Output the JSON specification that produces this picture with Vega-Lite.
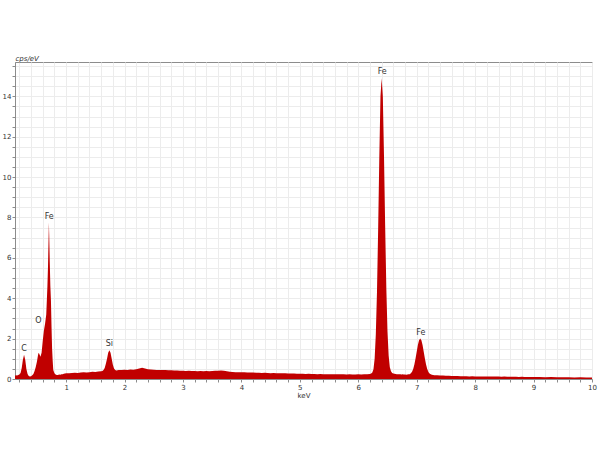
{
  "$schema": "https://vega.github.io/schema/vega-lite/v6.json",
  "width": 577,
  "height": 317,
  "autosize": "none",
  "padding": {"left": 15, "top": 62, "right": 8, "bottom": 71},
  "background": "white",
  "config": {"view": {"stroke": "#8c8c8c", "strokeWidth": 1}, "font": "DejaVu Sans"},
  "datasets": {
    "spectrum": [
      {"keV": 0.12, "cps": 0.15}, {"keV": 0.14, "cps": 0.18}, {"keV": 0.16, "cps": 0.17}, {"keV": 0.18, "cps": 0.2},
      {"keV": 0.2, "cps": 0.22}, {"keV": 0.22, "cps": 0.3}, {"keV": 0.24, "cps": 0.55}, {"keV": 0.26, "cps": 0.95},
      {"keV": 0.28, "cps": 1.2}, {"keV": 0.3, "cps": 0.95}, {"keV": 0.32, "cps": 0.5}, {"keV": 0.34, "cps": 0.25},
      {"keV": 0.36, "cps": 0.15}, {"keV": 0.38, "cps": 0.12}, {"keV": 0.4, "cps": 0.14}, {"keV": 0.42, "cps": 0.18},
      {"keV": 0.44, "cps": 0.25}, {"keV": 0.46, "cps": 0.4}, {"keV": 0.48, "cps": 0.6}, {"keV": 0.5, "cps": 0.85},
      {"keV": 0.52, "cps": 1.2}, {"keV": 0.53, "cps": 1.3}, {"keV": 0.54, "cps": 1.25}, {"keV": 0.56, "cps": 1.1},
      {"keV": 0.58, "cps": 1.3}, {"keV": 0.6, "cps": 1.9}, {"keV": 0.62, "cps": 2.4}, {"keV": 0.64, "cps": 2.75},
      {"keV": 0.66, "cps": 3.2}, {"keV": 0.67, "cps": 3.9}, {"keV": 0.68, "cps": 4.6}, {"keV": 0.69, "cps": 5.6},
      {"keV": 0.7, "cps": 7.0}, {"keV": 0.705, "cps": 7.75}, {"keV": 0.71, "cps": 7.2}, {"keV": 0.72, "cps": 5.8},
      {"keV": 0.73, "cps": 4.6}, {"keV": 0.74, "cps": 3.9}, {"keV": 0.75, "cps": 2.6}, {"keV": 0.76, "cps": 1.5},
      {"keV": 0.77, "cps": 0.9}, {"keV": 0.78, "cps": 0.45}, {"keV": 0.8, "cps": 0.28}, {"keV": 0.82, "cps": 0.22},
      {"keV": 0.84, "cps": 0.2}, {"keV": 0.86, "cps": 0.2}, {"keV": 0.88, "cps": 0.22}, {"keV": 0.9, "cps": 0.21},
      {"keV": 0.92, "cps": 0.24}, {"keV": 0.94, "cps": 0.23}, {"keV": 0.96, "cps": 0.26}, {"keV": 0.98, "cps": 0.27},
      {"keV": 1.0, "cps": 0.28}, {"keV": 1.05, "cps": 0.29}, {"keV": 1.1, "cps": 0.3}, {"keV": 1.15, "cps": 0.31},
      {"keV": 1.2, "cps": 0.3}, {"keV": 1.25, "cps": 0.32}, {"keV": 1.3, "cps": 0.33}, {"keV": 1.35, "cps": 0.32},
      {"keV": 1.4, "cps": 0.34}, {"keV": 1.45, "cps": 0.36}, {"keV": 1.5, "cps": 0.35}, {"keV": 1.55, "cps": 0.37},
      {"keV": 1.6, "cps": 0.38}, {"keV": 1.62, "cps": 0.4}, {"keV": 1.64, "cps": 0.45}, {"keV": 1.66, "cps": 0.55},
      {"keV": 1.68, "cps": 0.75}, {"keV": 1.7, "cps": 1.0}, {"keV": 1.72, "cps": 1.3}, {"keV": 1.74, "cps": 1.42},
      {"keV": 1.76, "cps": 1.3}, {"keV": 1.78, "cps": 1.0}, {"keV": 1.8, "cps": 0.7}, {"keV": 1.82, "cps": 0.52},
      {"keV": 1.84, "cps": 0.45}, {"keV": 1.86, "cps": 0.42}, {"keV": 1.88, "cps": 0.43}, {"keV": 1.9, "cps": 0.44},
      {"keV": 1.95, "cps": 0.45}, {"keV": 2.0, "cps": 0.46}, {"keV": 2.05, "cps": 0.45}, {"keV": 2.1, "cps": 0.47},
      {"keV": 2.15, "cps": 0.46}, {"keV": 2.2, "cps": 0.48}, {"keV": 2.25, "cps": 0.52}, {"keV": 2.3, "cps": 0.56},
      {"keV": 2.35, "cps": 0.52}, {"keV": 2.4, "cps": 0.48}, {"keV": 2.45, "cps": 0.47}, {"keV": 2.5, "cps": 0.46},
      {"keV": 2.55, "cps": 0.45}, {"keV": 2.6, "cps": 0.45}, {"keV": 2.65, "cps": 0.44}, {"keV": 2.7, "cps": 0.44},
      {"keV": 2.75, "cps": 0.43}, {"keV": 2.8, "cps": 0.43}, {"keV": 2.85, "cps": 0.42}, {"keV": 2.9, "cps": 0.42},
      {"keV": 2.95, "cps": 0.41}, {"keV": 3.0, "cps": 0.41}, {"keV": 3.05, "cps": 0.4}, {"keV": 3.1, "cps": 0.41},
      {"keV": 3.15, "cps": 0.4}, {"keV": 3.2, "cps": 0.4}, {"keV": 3.25, "cps": 0.39}, {"keV": 3.3, "cps": 0.4},
      {"keV": 3.35, "cps": 0.39}, {"keV": 3.4, "cps": 0.4}, {"keV": 3.45, "cps": 0.39}, {"keV": 3.5, "cps": 0.4},
      {"keV": 3.55, "cps": 0.41}, {"keV": 3.6, "cps": 0.41}, {"keV": 3.65, "cps": 0.42}, {"keV": 3.7, "cps": 0.41},
      {"keV": 3.75, "cps": 0.38}, {"keV": 3.8, "cps": 0.36}, {"keV": 3.85, "cps": 0.35}, {"keV": 3.9, "cps": 0.34},
      {"keV": 3.95, "cps": 0.34}, {"keV": 4.0, "cps": 0.33}, {"keV": 4.05, "cps": 0.33}, {"keV": 4.1, "cps": 0.32},
      {"keV": 4.15, "cps": 0.32}, {"keV": 4.2, "cps": 0.32}, {"keV": 4.25, "cps": 0.31}, {"keV": 4.3, "cps": 0.31},
      {"keV": 4.35, "cps": 0.3}, {"keV": 4.4, "cps": 0.31}, {"keV": 4.45, "cps": 0.3}, {"keV": 4.5, "cps": 0.29},
      {"keV": 4.55, "cps": 0.3}, {"keV": 4.6, "cps": 0.29}, {"keV": 4.65, "cps": 0.28}, {"keV": 4.7, "cps": 0.28},
      {"keV": 4.75, "cps": 0.28}, {"keV": 4.8, "cps": 0.27}, {"keV": 4.85, "cps": 0.27}, {"keV": 4.9, "cps": 0.27},
      {"keV": 4.95, "cps": 0.26}, {"keV": 5.0, "cps": 0.26}, {"keV": 5.05, "cps": 0.26}, {"keV": 5.1, "cps": 0.25},
      {"keV": 5.15, "cps": 0.26}, {"keV": 5.2, "cps": 0.25}, {"keV": 5.25, "cps": 0.25}, {"keV": 5.3, "cps": 0.24},
      {"keV": 5.35, "cps": 0.25}, {"keV": 5.4, "cps": 0.24}, {"keV": 5.45, "cps": 0.24}, {"keV": 5.5, "cps": 0.24},
      {"keV": 5.55, "cps": 0.23}, {"keV": 5.6, "cps": 0.24}, {"keV": 5.65, "cps": 0.23}, {"keV": 5.7, "cps": 0.23},
      {"keV": 5.75, "cps": 0.23}, {"keV": 5.8, "cps": 0.22}, {"keV": 5.85, "cps": 0.23}, {"keV": 5.9, "cps": 0.22},
      {"keV": 5.95, "cps": 0.22}, {"keV": 6.0, "cps": 0.23}, {"keV": 6.05, "cps": 0.22}, {"keV": 6.1, "cps": 0.23},
      {"keV": 6.15, "cps": 0.23}, {"keV": 6.2, "cps": 0.25}, {"keV": 6.22, "cps": 0.27}, {"keV": 6.24, "cps": 0.32},
      {"keV": 6.26, "cps": 0.48}, {"keV": 6.28, "cps": 1.0}, {"keV": 6.3, "cps": 2.2}, {"keV": 6.32, "cps": 4.3},
      {"keV": 6.34, "cps": 7.4}, {"keV": 6.36, "cps": 11.0}, {"keV": 6.38, "cps": 14.0}, {"keV": 6.4, "cps": 14.9},
      {"keV": 6.42, "cps": 14.0}, {"keV": 6.44, "cps": 11.1}, {"keV": 6.46, "cps": 7.6}, {"keV": 6.48, "cps": 4.5},
      {"keV": 6.5, "cps": 2.35}, {"keV": 6.52, "cps": 1.15}, {"keV": 6.54, "cps": 0.58}, {"keV": 6.56, "cps": 0.38},
      {"keV": 6.58, "cps": 0.3}, {"keV": 6.6, "cps": 0.27}, {"keV": 6.62, "cps": 0.26}, {"keV": 6.64, "cps": 0.25},
      {"keV": 6.66, "cps": 0.24}, {"keV": 6.68, "cps": 0.24}, {"keV": 6.7, "cps": 0.23}, {"keV": 6.72, "cps": 0.23},
      {"keV": 6.74, "cps": 0.22}, {"keV": 6.76, "cps": 0.23}, {"keV": 6.78, "cps": 0.22}, {"keV": 6.8, "cps": 0.22},
      {"keV": 6.82, "cps": 0.21}, {"keV": 6.84, "cps": 0.22}, {"keV": 6.86, "cps": 0.23}, {"keV": 6.88, "cps": 0.24},
      {"keV": 6.9, "cps": 0.28}, {"keV": 6.92, "cps": 0.36}, {"keV": 6.94, "cps": 0.5}, {"keV": 6.96, "cps": 0.72},
      {"keV": 6.98, "cps": 1.01}, {"keV": 7.0, "cps": 1.35}, {"keV": 7.02, "cps": 1.68}, {"keV": 7.04, "cps": 1.92},
      {"keV": 7.06, "cps": 2.0}, {"keV": 7.08, "cps": 1.92}, {"keV": 7.1, "cps": 1.68}, {"keV": 7.12, "cps": 1.35},
      {"keV": 7.14, "cps": 1.01}, {"keV": 7.16, "cps": 0.72}, {"keV": 7.18, "cps": 0.5}, {"keV": 7.2, "cps": 0.35},
      {"keV": 7.22, "cps": 0.27}, {"keV": 7.24, "cps": 0.23}, {"keV": 7.26, "cps": 0.21}, {"keV": 7.28, "cps": 0.2},
      {"keV": 7.3, "cps": 0.19}, {"keV": 7.35, "cps": 0.18}, {"keV": 7.4, "cps": 0.17}, {"keV": 7.45, "cps": 0.17},
      {"keV": 7.5, "cps": 0.16}, {"keV": 7.55, "cps": 0.16}, {"keV": 7.6, "cps": 0.15}, {"keV": 7.65, "cps": 0.15},
      {"keV": 7.7, "cps": 0.15}, {"keV": 7.75, "cps": 0.14}, {"keV": 7.8, "cps": 0.14}, {"keV": 7.85, "cps": 0.14},
      {"keV": 7.9, "cps": 0.13}, {"keV": 7.95, "cps": 0.14}, {"keV": 8.0, "cps": 0.13}, {"keV": 8.05, "cps": 0.13},
      {"keV": 8.1, "cps": 0.13}, {"keV": 8.15, "cps": 0.12}, {"keV": 8.2, "cps": 0.13}, {"keV": 8.25, "cps": 0.12},
      {"keV": 8.3, "cps": 0.12}, {"keV": 8.35, "cps": 0.12}, {"keV": 8.4, "cps": 0.12}, {"keV": 8.45, "cps": 0.11},
      {"keV": 8.5, "cps": 0.12}, {"keV": 8.55, "cps": 0.11}, {"keV": 8.6, "cps": 0.11}, {"keV": 8.65, "cps": 0.11},
      {"keV": 8.7, "cps": 0.11}, {"keV": 8.75, "cps": 0.1}, {"keV": 8.8, "cps": 0.11}, {"keV": 8.85, "cps": 0.1},
      {"keV": 8.9, "cps": 0.1}, {"keV": 8.95, "cps": 0.1}, {"keV": 9.0, "cps": 0.1}, {"keV": 9.1, "cps": 0.1},
      {"keV": 9.2, "cps": 0.09}, {"keV": 9.3, "cps": 0.1}, {"keV": 9.4, "cps": 0.09}, {"keV": 9.5, "cps": 0.09},
      {"keV": 9.6, "cps": 0.09}, {"keV": 9.7, "cps": 0.08}, {"keV": 9.8, "cps": 0.09}, {"keV": 9.9, "cps": 0.08},
      {"keV": 10.0, "cps": 0.08}
    ],
    "peaks": [
      {"keV": 0.28, "cps": 1.2, "label": "C"},
      {"keV": 0.525, "cps": 2.6, "label": "O"},
      {"keV": 0.71, "cps": 7.75, "label": "Fe"},
      {"keV": 1.74, "cps": 1.42, "label": "Si"},
      {"keV": 6.41, "cps": 14.9, "label": "Fe"},
      {"keV": 7.07, "cps": 2.0, "label": "Fe"}
    ]
  },
  "layer": [
    {
      "data": {"name": "spectrum"},
      "mark": {"type": "area", "color": "#c00000", "clip": true, "interpolate": "linear"},
      "encoding": {
        "x": {
          "field": "keV", "type": "quantitative",
          "scale": {"domain": [0.125, 10], "nice": false, "zero": false},
          "axis": {
            "title": "keV",
            "values": [0.2, 0.4, 0.6, 0.8, 1, 1.2, 1.4, 1.6, 1.8, 2, 2.2, 2.4, 2.6, 2.8, 3, 3.2, 3.4, 3.6, 3.8, 4, 4.2, 4.4, 4.6, 4.8, 5, 5.2, 5.4, 5.6, 5.8, 6, 6.2, 6.4, 6.6, 6.8, 7, 7.2, 7.4, 7.6, 7.8, 8, 8.2, 8.4, 8.6, 8.8, 9, 9.2, 9.4, 9.6, 9.8, 10],
            "tickCount": 500,
            "labelExpr": "datum.value % 1 === 0 ? format(datum.value, 'd') : ''",
            "labelOverlap": false, "labelBound": false, "labelFlush": false,
            "grid": true, "gridColor": "#ececec", "gridWidth": 1,
            "domainColor": "#8c8c8c", "tickColor": "#8c8c8c", "tickSize": 3,
            "labelFontSize": 7, "labelColor": "#333", "labelPadding": 1,
            "titleFontSize": 7, "titleFontWeight": "normal", "titleColor": "#333", "titlePadding": 1
          }
        },
        "y": {
          "field": "cps", "type": "quantitative",
          "scale": {"domain": [0, 15.7], "nice": false},
          "axis": {
            "title": "cps/eV",
            "values": [0, 0.5, 1, 1.5, 2, 2.5, 3, 3.5, 4, 4.5, 5, 5.5, 6, 6.5, 7, 7.5, 8, 8.5, 9, 9.5, 10, 10.5, 11, 11.5, 12, 12.5, 13, 13.5, 14, 14.5, 15, 15.5],
            "tickCount": 500,
            "labelExpr": "datum.value % 2 === 0 ? format(datum.value, 'd') : ''",
            "labelOverlap": false, "labelBound": false, "labelFlush": false,
            "grid": true, "gridColor": "#ececec", "gridWidth": 1,
            "domainColor": "#8c8c8c", "tickColor": "#8c8c8c", "tickSize": 3,
            "labelFontSize": 7, "labelColor": "#333", "labelPadding": 1,
            "titleAngle": 0, "titleX": 0, "titleY": -1, "titleAlign": "left", "titleBaseline": "bottom",
            "titleFontSize": 7, "titleFontWeight": "normal", "titleFontStyle": "italic", "titleColor": "#333"
          }
        }
      }
    },
    {
      "data": {"name": "peaks"},
      "mark": {"type": "text", "baseline": "bottom", "align": "center", "fontSize": 8, "color": "#333", "dy": -2},
      "encoding": {
        "x": {"field": "keV", "type": "quantitative"},
        "y": {"field": "cps", "type": "quantitative"},
        "text": {"field": "label"}
      }
    }
  ]
}
